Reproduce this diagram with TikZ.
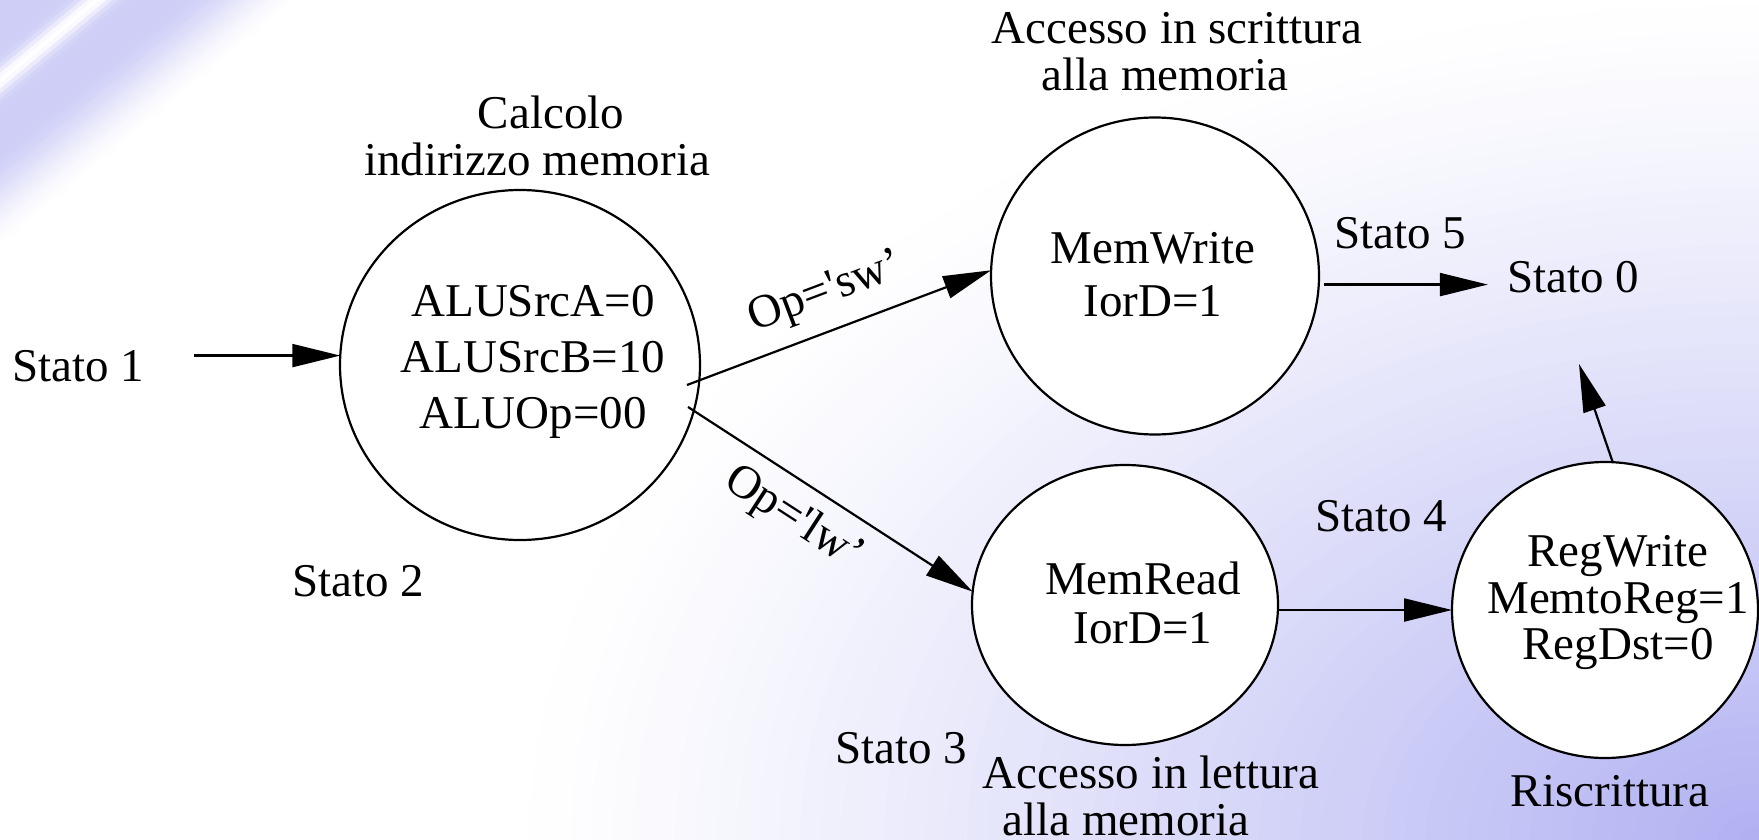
\documentclass[tikz,border=0pt]{standalone}
\usepackage{fontspec}
\setmainfont{Liberation Serif}
\usetikzlibrary{shapes.geometric,arrows.meta,calc}
\definecolor{lav}{RGB}{176,176,242}
% centred block of lines with a given baseline distance
\newcommand{\txtlines}[2]{\fontsize{47}{#1}\selectfont\begin{tabular}[t]{@{}c@{}}#2\end{tabular}}
\begin{document}
\begin{tikzpicture}[x=1pt,y=-1pt,
  state/.style={ellipse, draw, fill=white, line width=2.2pt, inner sep=0pt, outer sep=0pt},
  lbl/.style={inner sep=0pt, anchor=base, font=\fontsize{47}{56}\selectfont},
  edgelbl/.style={inner sep=0pt, sloped, font=\fontsize{47}{56}\selectfont},
  arr/.style={line width=2.2pt, -{Triangle[length=48pt,width=23pt]}}]
\useasboundingbox (0,0) rectangle (1759,840);

% background: white with a lavender glow bottom right and a streak top left
\begin{scope}
  \clip (0,0) rectangle (1759,840);
  \fill[white] (0,0) rectangle (1759,840);
  \foreach \k in {1,...,59} {
    \pgfmathsetmacro\s{1-\k/60}
    \pgfmathsetmacro\f{100*(\k/60)^1.2}
    \fill[lav!\f!white] (1759,840) ellipse [x radius={1250*\s}, y radius={850*\s}];
  }
  \foreach \k in {0,...,49} {
    \pgfmathsetmacro\d{200-4*\k}
    \pgfmathsetmacro\u{min(1,max(0,(\d-115)/80))}
    \pgfmathsetmacro\f{max(0,62*(1-\u*\u*(3-2*\u))-62*exp(-min(9,((\d-64)/11)^2)))}
    \fill[lav!\f!white] (0,0) -- ({1.5625*\d},0) -- (0,{1.302*\d}) -- cycle;
  }
\end{scope}

% states
\node[state, minimum width=360pt, minimum height=350pt] (sA) at (520,365) {};
\node[state, minimum width=328pt, minimum height=317pt] (sB) at (1155,276) {};
\node[state, minimum width=306pt, minimum height=280pt] (sC) at (1125,605) {};
\node[state, minimum width=306pt, minimum height=296pt] (sD) at (1605,610) {};

% state contents
\node[lbl] (tA) at (533,316.7) {\txtlines{56}{ALUSrcA=0\\ALUSrcB=10\\ALUOp=00}};
\node[lbl] (tB) at (1153,263) {\txtlines{53}{MemWrite\\IorD=1}};
\node[lbl] (tC) at (1143,594) {\txtlines{49}{MemRead\\IorD=1}};
\node[lbl] (tD) at (1618,566.7) {\txtlines{46.3}{RegWrite\\MemtoReg=1\\RegDst=0}};

% captions
\node[lbl] (calc) at (551,129) {\txtlines{47}{Calcolo\\indirizzo memoria\hspace*{28pt}}};
\node[lbl] (wacc) at (1177,44) {\txtlines{47}{Accesso in scrittura\\alla memoria\hspace*{24pt}}};
\node[lbl] (racc) at (1151,788) {\txtlines{47}{Accesso in lettura\\alla memoria\hspace*{50pt}}};
\node[lbl] (risc) at (1610,806) {Riscrittura};

% state numbers
\node[lbl] (s1) at (78,381.7) {Stato 1};
\node[lbl] (s2) at (358,596) {Stato 2};
\node[lbl] (s3) at (901,763) {Stato 3};
\node[lbl] (s4) at (1381,531) {Stato 4};
\node[lbl] (s5) at (1400,248.5) {Stato 5};
\node[lbl] (s0) at (1573,292) {Stato 0};
\coordinate (s0foot) at (1579,364);

% transitions
\draw[arr, shorten <=50pt] (s1.east |- sA.177.4) -- (sA.177.4);
\draw[arr] ($(sA.center)+(167,20)$) -- (sB.178)
  node[edgelbl, pos=0.5, above=15pt] {Op=\textquotesingle sw’};
\draw[arr] ($(sA.center)+(168,42)$) -- (sC.175.8)
  node[edgelbl, pos=0.44, below=14pt] {Op=\textquotesingle lw’};
\draw[arr, shorten <=5pt, shorten >=19pt] (sB.-3.8) -- (sB.-3.8 -| s0.west);
\draw[arr] (sD.west -| sC.east) -- (sD.west);
\draw[arr] (sD.87.6) -- (s0foot);
\end{tikzpicture}
\end{document}
